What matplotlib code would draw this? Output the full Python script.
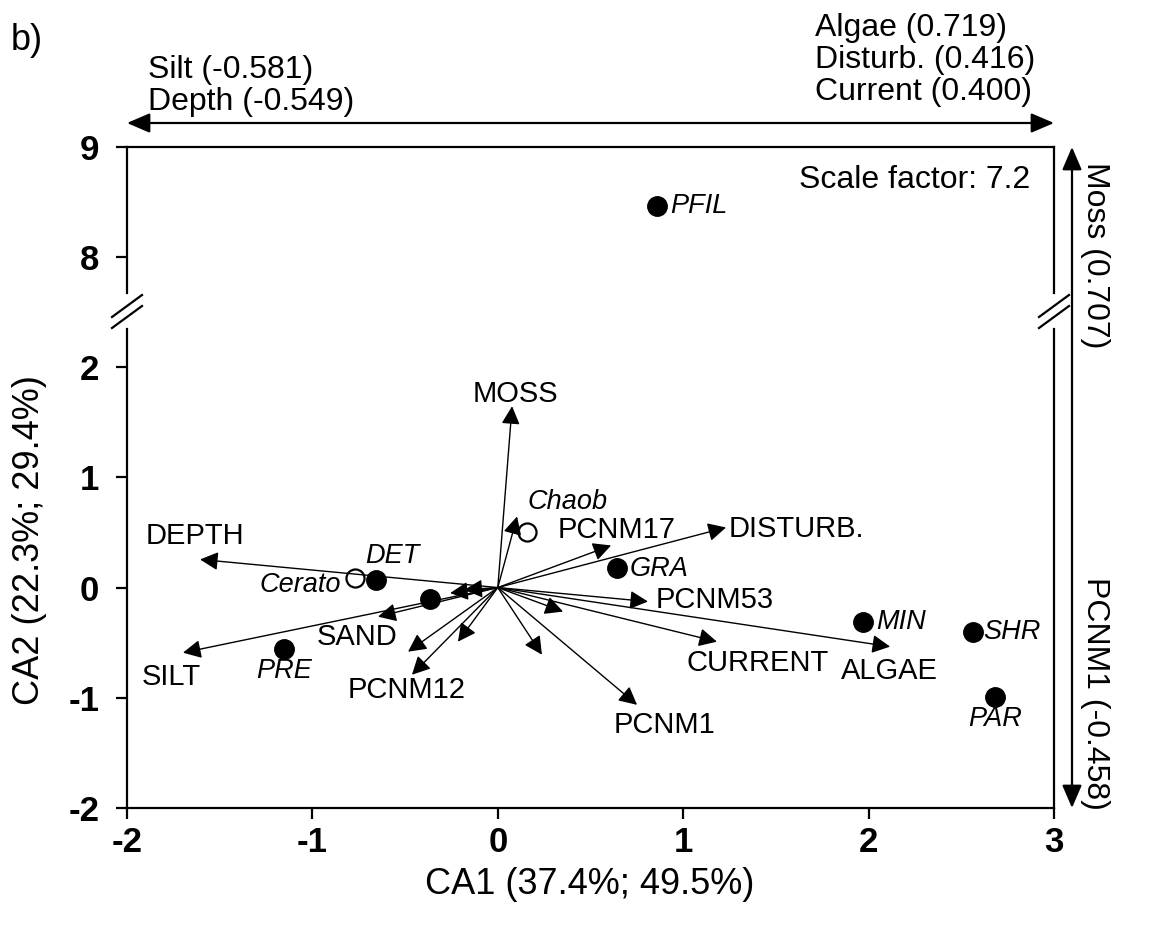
import matplotlib
matplotlib.use("Agg")
import matplotlib.pyplot as plt
from matplotlib.lines import Line2D
from matplotlib.patches import FancyArrowPatch

plt.rcParams['font.family'] = ['Liberation Sans', 'DejaVu Sans']
plt.rcParams['axes.unicode_minus'] = False

# ---------------- data ----------------
# environmental vectors (arrow tips, CA1, CA2)
env_names = ["MOSS", "DISTURB.", "PCNM17", "PCNM53", "CURRENT", "ALGAE", "PCNM1",
             "PCNM12", "SAND", "SILT", "DEPTH",
             "", "", "", "", "", "", ""]
env_x = [0.077, 1.231, 0.611, 0.810, 1.182, 2.116, 0.751,
         -0.463, -0.646, -1.698, -1.606,
         0.104, 0.352, 0.238, -0.484, -0.215, -0.257, -0.180]
env_y = [1.645, 0.545, 0.382, -0.127, -0.491, -0.536, -1.064,
         -0.791, -0.264, -0.591, 0.255,
         0.645, -0.218, -0.609, -0.582, -0.491, -0.050, -0.020]

# taxa (filled = significant, open = other)
filled_names = ["PFIL", "DET", "", "PRE", "GRA", "MIN", "SHR", "PAR"]
filled_x = [0.86, -0.657, -0.366, -1.152, 0.643, 1.971, 2.564, 2.683]
filled_y = [8.46, 0.073, -0.100, -0.555, 0.180, -0.310, -0.400, -0.990]
open_names = ["Cerato", "Chaob"]
open_x = [-0.771, 0.158]
open_y = [0.090, 0.500]

x_ticks = [-2, -1, 0, 1, 2, 3]
y_ticks_low = [-2, -1, 0, 1, 2]
y_ticks_high = [8, 9]

top_left_text = ["Silt (-0.581)", "Depth (-0.549)"]
top_right_text = ["Algae (0.719)", "Disturb. (0.416)", "Current (0.400)"]
right_top_text = "Moss (0.707)"
right_bottom_text = "PCNM1 (-0.458)"

# label placement
env_label_pos = {
    "MOSS": (0.093, 1.755, "center", "center"),
    "DISTURB.": (1.245, 0.527, "left", "center"),
    "PCNM17": (0.325, 0.52, "left", "center"),
    "PCNM53": (0.85, -0.11, "left", "center"),
    "CURRENT": (1.403, -0.68, "center", "center"),
    "ALGAE": (2.11, -0.755, "center", "center"),
    "PCNM1": (0.90, -1.245, "center", "center"),
    "PCNM12": (-0.49, -0.93, "center", "center"),
    "SAND": (-0.759, -0.445, "center", "center"),
    "SILT": (-1.762, -0.81, "center", "center"),
    "DEPTH": (-1.633, 0.464, "center", "center"),
}
taxa_label_off = {
    "PFIL": (9, 0, "left", "center"),
    "DET": (12, 17, "center", "center"),
    "PRE": (0, -16, "center", "center"),
    "GRA": (9, -1, "left", "center"),
    "MIN": (9, 0, "left", "center"),
    "SHR": (7, 0, "left", "center"),
    "PAR": (0, -16, "center", "center"),
    "Cerato": (-10, -5, "right", "center"),
    "Chaob": (29, 22, "center", "center"),
}

W, H = 1161, 932
fig = plt.figure(figsize=(W / 100, H / 100), dpi=100)


def fx(px):
    return px / W


def fy(py):
    return 1 - py / H


L, R, T, B, BRK = 127, 1054, 147, 808, 312
ax = fig.add_axes([fx(L), fy(B), fx(R) - fx(L), fy(BRK) - fy(B)])
axt = fig.add_axes([fx(L), fy(BRK), fx(R) - fx(L), fy(T) - fy(BRK)])

ax.set_xlim(-2, 3)
ax.set_ylim(-2, 2.5)
axt.set_xlim(-2, 3)
axt.set_ylim(7.5, 9)

lw_sp = 1.6
for a in (ax, axt):
    for s in a.spines.values():
        s.set_linewidth(lw_sp)
    a.patch.set_alpha(0)
ax.spines['top'].set_visible(False)
axt.spines['bottom'].set_visible(False)
ax.spines['left'].set_bounds(-2, 2.35)
ax.spines['right'].set_bounds(-2, 2.35)
axt.spines['left'].set_bounds(7.67, 9)
axt.spines['right'].set_bounds(7.67, 9)

tick_kw = dict(direction='out', length=8, width=lw_sp, labelsize=25)
ax.set_xticks(x_ticks)
ax.set_yticks(y_ticks_low)
ax.tick_params(axis='both', **tick_kw)
ax.tick_params(axis='y', pad=12)
ax.tick_params(axis='x', pad=5)
axt.set_yticks(y_ticks_high)
axt.set_xticks([])
axt.tick_params(axis='y', pad=12, **tick_kw)
for a in (ax, axt):
    for lab in a.get_xticklabels() + a.get_yticklabels():
        lab.set_fontweight('bold')

# break marks
for xp in (L, R):
    for yc in (306, 317):
        fig.add_artist(Line2D([fx(xp - 15), fx(xp + 15)], [fy(yc + 11), fy(yc - 11)],
                              transform=fig.transFigure, color='black', lw=1.6))

# environmental arrows
for nm, x, y in zip(env_names, env_x, env_y):
    ax.annotate("", xy=(x, y), xytext=(0, 0),
                arrowprops=dict(arrowstyle='-|>,head_length=0.55,head_width=0.28',
                                mutation_scale=20, lw=1.0, color='black',
                                shrinkA=0, shrinkB=0),
                annotation_clip=False)
    if nm:
        lx, ly, ha, va = env_label_pos[nm]
        ax.text(lx, ly, nm, fontsize=21, ha=ha, va=va)

# taxa points
for nm, x, y in zip(filled_names, filled_x, filled_y):
    target = axt if y > 2.5 else ax
    target.plot(x, y, 'o', ms=14, color='black', clip_on=False)
    if nm:
        dx, dy, ha, va = taxa_label_off[nm]
        target.annotate(nm, (x, y), xytext=(dx, dy), textcoords='offset points',
                        fontsize=19.5, style='italic', ha=ha, va=va)
for nm, x, y in zip(open_names, open_x, open_y):
    ax.plot(x, y, 'o', ms=13, mfc='white', mec='black', mew=1.6, clip_on=False)
    dx, dy, ha, va = taxa_label_off[nm]
    ax.annotate(nm, (x, y), xytext=(dx, dy), textcoords='offset points',
                fontsize=19.5, style='italic', ha=ha, va=va)

fig.text(fx(1030), fy(180), "Scale factor: 7.2", fontsize=23, ha='right', va='center')

# axis labels
fig.text(fx(590), fy(885), "CA1 (37.4%; 49.5%)", fontsize=26, ha='center', va='center')
fig.text(fx(30), fy(540), "CA2 (22.3%; 29.4%)", fontsize=26, ha='center', va='center',
         rotation=90)

# panel label
fig.text(fx(11), fy(40), "b)", fontsize=26, ha='left', va='center')

# outer arrows
for p0, p1 in (((L, 123), (R, 123)), ((1072, T), (1072, B))):
    fig.add_artist(FancyArrowPatch(
        (fx(p0[0]), fy(p0[1])), (fx(p1[0]), fy(p1[1])), transform=fig.transFigure,
        arrowstyle='<|-|>,head_length=0.7,head_width=0.3', mutation_scale=20,
        lw=1.6, color='black', shrinkA=0, shrinkB=0))

fig.text(fx(148), fy(86), "\n".join(top_left_text), fontsize=23, ha='left', va='center',
         linespacing=1.12)
fig.text(fx(815), fy(60), "\n".join(top_right_text), fontsize=23, ha='left', va='center',
         linespacing=1.07)
fig.text(fx(1095), fy(162), right_top_text, fontsize=23, ha='center', va='top',
         rotation=-90)
fig.text(fx(1095), fy(810), right_bottom_text, fontsize=23, ha='center', va='bottom',
         rotation=-90)

fig.savefig("out.png", dpi=100)
